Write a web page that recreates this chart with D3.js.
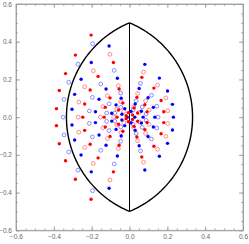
<!DOCTYPE html>
<html>
<head>
<meta charset="utf-8">
<script src="https://cdn.jsdelivr.net/npm/d3@7"></script>
<style>
  body { margin: 0; background: #fff; }
  svg { display: block; font-family: "DejaVu Sans", sans-serif; }
  .axis text { fill: #666; font-size: 6.5px; }
  .axis path, .axis line { stroke: #999; stroke-width: 0.8; }
</style>
</head>
<body>
<svg id="chart" width="249" height="244"></svg>
<script>
// points, [re, im]
const redFilled = [
  [-0.203, 0.435], [-0.286, 0.329], [-0.338, 0.231], [-0.371, 0.141], [-0.386, 0.045],
  [-0.203, -0.435], [-0.286, -0.329], [-0.338, -0.231], [-0.371, -0.141], [-0.386, -0.045],
  [-0.085, 0.290], [-0.166, 0.216], [-0.208, 0.144], [-0.237, 0.070], [-0.247, 0],
  [-0.085, -0.290], [-0.166, -0.216], [-0.208, -0.144], [-0.237, -0.070],
  [-0.055, 0.149], [-0.103, 0.102], [-0.128, 0.052], [-0.134, 0],
  [-0.055, -0.149], [-0.103, -0.102], [-0.128, -0.052],
  [-0.035, 0.075], [-0.058, 0.038], [-0.066, 0],
  [-0.035, -0.075], [-0.058, -0.038],
  [0.065, 0.211], [0.129, 0.154], [0.167, 0.088], [0.181, 0.029],
  [0.065, -0.211], [0.129, -0.154], [0.167, -0.088], [0.181, -0.029],
  [0.039, 0.105], [0.081, 0.066], [0.093, 0.028],
  [0.039, -0.105], [0.081, -0.066], [0.093, -0.028],
  [0.024, 0.049], [0.043, 0.022], [0.024, -0.049], [0.043, -0.022],
  [0.016, 0.012], [0.016, -0.012], [-0.018, 0.008], [-0.018, -0.008],
  [-0.006, 0.024], [-0.006, -0.024]
];
const redOpen = [
  [-0.103, 0.333], [-0.191, 0.246], [-0.237, 0.161], [-0.268, 0.080], [-0.271, 0],
  [-0.103, -0.333], [-0.191, -0.246], [-0.237, -0.161], [-0.268, -0.080],
  [-0.059, 0.167], [-0.117, 0.114], [-0.141, 0.056], [-0.154, 0],
  [-0.059, -0.167], [-0.117, -0.114], [-0.141, -0.056],
  [-0.046, 0.082], [-0.067, 0.042], [-0.084, 0],
  [-0.046, -0.082], [-0.067, -0.042],
  [0.074, 0.239], [0.148, 0.170], [0.192, 0.102], [0.202, 0.034],
  [0.074, -0.239], [0.148, -0.170], [0.192, -0.102], [0.202, -0.034],
  [0.043, 0.125], [0.085, 0.086], [0.104, 0.038],
  [0.043, -0.125], [0.085, -0.086], [0.104, -0.038],
  [0.022, 0.054], [0.051, 0.025], [0.022, -0.054], [0.051, -0.025],
  [-0.030, 0.030], [-0.030, -0.030]
];
const blueFilled = [
  [0.081, 0.280], [0.158, 0.207], [0.201, 0.139], [0.227, 0.068], [0.232, 0],
  [0.081, -0.280], [0.158, -0.207], [0.201, -0.139], [0.227, -0.068],
  [-0.108, 0.377], [-0.202, 0.290], [-0.256, 0.201], [-0.290, 0.121], [-0.304, 0.042],
  [-0.108, -0.377], [-0.202, -0.290], [-0.256, -0.201], [-0.290, -0.121], [-0.304, -0.042],
  [0.051, 0.152], [0.098, 0.103], [0.126, 0.052], [0.134, 0],
  [0.051, -0.152], [0.098, -0.103], [0.126, -0.052],
  [-0.064, 0.206], [-0.124, 0.149], [-0.161, 0.095], [-0.180, 0.029],
  [-0.064, -0.206], [-0.124, -0.149], [-0.161, -0.095], [-0.180, -0.029],
  [-0.044, 0.100], [-0.071, 0.065], [-0.094, 0.021],
  [-0.044, -0.100], [-0.071, -0.065], [-0.094, -0.021],
  [0.030, 0.070], [0.063, 0.031], [0.072, 0],
  [0.030, -0.070], [0.063, -0.031],
  [-0.025, 0.045], [-0.040, 0.015], [-0.025, -0.045], [-0.040, -0.015],
  [0.008, 0.030], [0.008, -0.030], [0.028, 0], [-0.012, 0]
];
const blueOpen = [
  [-0.195, 0.390], [-0.272, 0.281], [-0.321, 0.185], [-0.346, 0.094], [-0.351, 0],
  [-0.195, -0.390], [-0.272, -0.281], [-0.321, -0.185], [-0.346, -0.094],
  [-0.081, 0.248], [-0.152, 0.176], [-0.196, 0.105], [-0.212, 0.033],
  [-0.081, -0.248], [-0.152, -0.176], [-0.196, -0.105], [-0.212, -0.033],
  [-0.047, 0.128], [-0.108, 0.071], [-0.121, 0.022],
  [-0.047, -0.128], [-0.108, -0.071], [-0.121, -0.022],
  [-0.046, 0.052], [-0.078, 0.021], [-0.046, -0.052], [-0.078, -0.021],
  [0.058, 0.179], [0.116, 0.116], [0.144, 0.058], [0.151, 0],
  [0.058, -0.179], [0.116, -0.116], [0.144, -0.058],
  [0.035, 0.086], [0.067, 0.054], [0.088, 0.017],
  [0.035, -0.086], [0.067, -0.054], [0.088, -0.017],
  [0.019, 0.038], [0.019, -0.038]
];

// lens boundary: two circle arcs through ±0.5i, plus the segment on the imaginary axis
const arcCenters = [5 / 24, -5 / 24];
const arcRadius = 13 / 24;
const segment = [[0, -0.5], [0, 0.5]];

const majorTicks = [-0.6, -0.4, -0.2, 0.0, 0.2, 0.4, 0.6];
const minorTicks = d3.range(-0.6, 0.6001, 0.05);

const svg = d3.select('#chart');
const x = d3.scaleLinear().domain([-0.6, 0.6]).range([16, 243]);
const y = d3.scaleLinear().domain([-0.6, 0.6]).range([230.3, 4]);
const fmt = d3.format('.1f');

// frame with inward ticks
function frame(axis, scale, transform, labels) {
  svg.append('g').attr('class', 'axis').attr('transform', transform)
    .call(axis(scale).tickValues(minorTicks).tickSize(-2).tickFormat('').tickSizeOuter(0));
  const g = svg.append('g').attr('class', 'axis').attr('transform', transform)
    .call(axis(scale).tickValues(majorTicks).tickSize(-4).tickPadding(4)
      .tickFormat(labels ? (d => fmt(d).replace('-', '\u2212')) : '').tickSizeOuter(0));
  g.select('.domain').remove();
}
frame(d3.axisBottom, x, `translate(0,${y(-0.6)})`, true);
frame(d3.axisTop, x, `translate(0,${y(0.6)})`, false);
frame(d3.axisLeft, y, `translate(${x(-0.6)},0)`, true);
frame(d3.axisRight, y, `translate(${x(0.6)},0)`, false);
svg.append('rect')
  .attr('x', x(-0.6)).attr('y', y(0.6))
  .attr('width', x(0.6) - x(-0.6)).attr('height', y(-0.6) - y(0.6))
  .attr('fill', 'none').attr('stroke', '#999').attr('stroke-width', 0.8);

// lens curves
const line = d3.line().x(d => x(d[0])).y(d => y(d[1]));
arcCenters.forEach(c => {
  const half = Math.asin(0.5 / arcRadius);
  const start = c > 0 ? Math.PI - half : -half;
  const pts = d3.range(0, 121).map(i => {
    const t = start + (2 * half) * i / 120;
    return [c + arcRadius * Math.cos(t), arcRadius * Math.sin(t)];
  });
  svg.append('path').attr('d', line(pts))
    .attr('fill', 'none').attr('stroke', '#000').attr('stroke-width', 1.4);
});
svg.append('path').attr('d', line(segment))
  .attr('fill', 'none').attr('stroke', '#000').attr('stroke-width', 1);

// markers
function filled(data, color) {
  svg.append('g').selectAll('circle').data(data).join('circle')
    .attr('cx', d => x(d[0])).attr('cy', d => y(d[1])).attr('r', 1.7)
    .attr('fill', color);
}
function open(data, color) {
  svg.append('g').selectAll('circle').data(data).join('circle')
    .attr('cx', d => x(d[0])).attr('cy', d => y(d[1])).attr('r', 1.9)
    .attr('fill', 'none').attr('stroke', color).attr('stroke-width', 0.8);
}
open(blueOpen, '#6f6fff');
open(redOpen, '#ff6f6f');
filled(blueFilled, '#0000ff');
filled(redFilled, '#ff0000');
</script>
</body>
</html>
